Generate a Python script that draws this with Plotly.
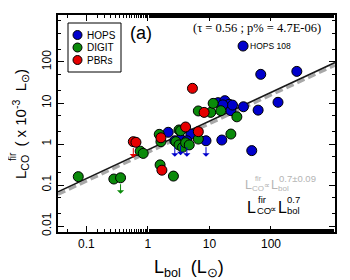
import math
import plotly.graph_objects as go

# ---- data (Lbol in Lsun, Lco_fir in 1e-3 Lsun) ----
hops_lbol = [2.14, 5.0, 15.9, 13.8, 17.8, 20.9, 22.3, 23.7, 35.7, 61.8, 130, 68.2, 263, 35.2, 48.7, 16.5, 2.74, 3.4, 4.3, 8.8]
hops_lco  = [1.93, 1.75, 1.25, 10.2, 11.4, 9.3, 6.5, 8.9, 8.1, 6.7, 10.4, 50, 59, 245, 0.69, 9.0, 1.2, 1.3, 1.2, 1.2]
hops_ul   = [0, 0, 0, 0, 0, 0, 0, 0, 0, 0, 0, 0, 0, 0, 0, 0, 1, 1, 1, 1]

digit_lbol = [0.074, 0.28, 0.36, 0.75, 0.84, 1.53, 1.63, 1.58, 2.6, 3.2, 2.85, 3.2, 3.66, 4.1, 4.7, 6.6, 6.6, 10.5, 11.5, 15.3, 27.9, 22.3, 3.4]
digit_lco  = [0.16, 0.14, 0.15, 0.67, 0.59, 1.72, 1.14, 0.31, 0.165, 2.2, 1.14, 0.95, 0.83, 1.07, 0.95, 1.32, 6.4, 5.9, 9.8, 6.5, 4.6, 1.75, 2.1]
digit_ul   = [0, 0, 1, 0, 0, 0, 0, 0, 0, 0, 0, 0, 0, 0, 0, 0, 0, 0, 0, 0, 0, 0, 0]

pbr_lbol = [0.58, 0.64, 1.63, 1.69, 4.1, 6.6, 5.3, 8.2]
pbr_lco  = [1.14, 1.1, 1.42, 0.23, 2.6, 2.0, 22.8, 5.9]
pbr_ul   = [1, 0, 0, 0, 0, 0, 0, 0]

series_names = ["HOPS", "DIGIT", "PBRs"]
fit_norm, fit_slope = 0.72, 0.70          # black solid fit
fit2_norm, fit2_slope = 0.62, 0.70        # grey dashed fit
x_range_log = [-1.46, 3.04]
y_range_log = [-2.146, 3.146]
x_ticks = [0.1, 1, 10, 100]
y_ticks = [0.01, 0.1, 1, 10, 100]

colors = {"HOPS": "#0000cc", "DIGIT": "#0a8a0a", "PBRs": "#e60000"}
FONT = "Liberation Sans, Arial, sans-serif"

# the page body has an 8px margin: size the figure so that the window shows it like the reference
OFF = 8
W, H = 350 - OFF, 280 - OFF
ML, MR, MT, MB = 58 - OFF, 15, 15 - OFF, 48
PW, PH = W - ML - MR, H - MT - MB


def px(xp):  # window pixel -> paper
    return (xp - ML - OFF) / PW


def py(yp):
    return 1 - (yp - MT - OFF) / PH


fig = go.Figure()

xs = [10 ** x_range_log[0], 10 ** x_range_log[1]]
fig.add_trace(go.Scatter(x=xs, y=[fit2_norm * v ** fit2_slope for v in xs], mode="lines",
                         line=dict(color="#a8a8a8", width=3, dash="8px,4px"), showlegend=False, hoverinfo="skip"))
fig.add_trace(go.Scatter(x=xs, y=[fit_norm * v ** fit_slope for v in xs], mode="lines",
                         line=dict(color="#1a1a1a", width=1.6), showlegend=False, hoverinfo="skip"))

series = [("HOPS", hops_lbol, hops_lco, hops_ul),
          ("DIGIT", digit_lbol, digit_lco, digit_ul),
          ("PBRs", pbr_lbol, pbr_lco, pbr_ul)]

annotations = []
for name, lx, ly, ul in series:
    for xv, yv, u in zip(lx, ly, ul):
        if u:
            annotations.append(dict(x=math.log10(xv), y=math.log10(yv) - 0.39,
                                    ax=math.log10(xv), ay=math.log10(yv) - 0.12,
                                    xref="x", yref="y", axref="x", ayref="y",
                                    showarrow=True, arrowhead=1, arrowsize=1.2,
                                    arrowwidth=1, arrowcolor=colors[name], text=""))

for name, lx, ly, ul in series:
    fig.add_trace(go.Scatter(x=lx, y=ly, mode="markers", name=name, showlegend=False,
                             marker=dict(size=10, color=colors[name],
                                         line=dict(color="black", width=1))))


def txt(x, y, s, size, color="black", family=FONT, xanchor="left", angle=0):
    return dict(x=px(x), y=py(y), xref="paper", yref="paper", text=s, showarrow=False,
                xanchor=xanchor, yanchor="middle", textangle=angle, borderpad=0,
                font=dict(size=size, family=family, color=color))


GREY = "#b4b4b4"
annotations += [
    txt(141, 33, "(a)", 18, xanchor="center"),
    txt(322, 28, "(τ = 0.56 ; p% = 4.7E-06)", 12.5, family="Liberation Serif, Times New Roman, serif",
        xanchor="right"),
    txt(249, 46, "HOPS 108", 8.5),
    # grey formula
    txt(243.5, 184.5, "L", 12.5, GREY),
    txt(251, 188, "CO", 8, GREY),
    txt(253.5, 178, "fir", 7.5, GREY),
    txt(266.5, 185.5, "∝", 7.5, GREY, xanchor="center"),
    txt(269.5, 184.5, "L", 12.5, GREY),
    txt(277, 188, "bol", 8, GREY),
    txt(278, 178.5, "0.7±0.09", 9.5, GREY),
    # black formula
    txt(246, 207, "L", 16),
    txt(255.5, 210.5, "CO", 9.5),
    txt(257, 199, "fir", 9.5),
    txt(273, 209, "∝", 9, xanchor="center"),
    txt(276.5, 207, "L", 16),
    txt(285.5, 210.5, "bol", 9.5),
    txt(286, 199, "0.7", 9.5),
    # axis titles
    txt(189, 268, "L<sub>bol</sub>  (L<sub>⊙</sub>)", 18, xanchor="center"),
    txt(12, 157, "fir", 10, angle=-90, xanchor="center"),
    # legend text
    txt(86, 35, "HOPS", 10),
    txt(86, 47.5, "DIGIT", 10),
    txt(86, 60, "PBRs", 10),
]
annotations.append(dict(x=px(20), y=py(124), xref="paper", yref="paper", showarrow=False,
                        text="L<sub>CO</sub>  ( x 10<sup>-3</sup>  L<sub>⊙</sub>)", textangle=-90,
                        xanchor="center", yanchor="middle",
                        font=dict(size=15, family=FONT, color="black")))

shapes = [dict(type="rect", xref="paper", yref="paper", x0=px(68), x1=px(121), y0=py(23), y1=py(72),
               line=dict(color="black", width=1), fillcolor="white", layer="above")]
for name, yy in zip(series_names, [35, 47.5, 60]):
    shapes.append(dict(type="circle", xref="paper", yref="paper", xsizemode="pixel", ysizemode="pixel",
                       xanchor=px(77.5), yanchor=py(yy), x0=-4.5, x1=4.5, y0=-4.5, y1=4.5,
                       fillcolor=colors[name], line=dict(color="black", width=1), layer="above"))

axis_common = dict(type="log", showgrid=False, zeroline=False, showline=True, linecolor="black",
                   linewidth=2, mirror="ticks", ticks="inside", ticklen=6, tickwidth=1,
                   tickcolor="black", automargin=False,
                   minor=dict(ticks="inside", ticklen=3, tickwidth=1, tickcolor="black", showgrid=False),
                   tickfont=dict(size=12, family=FONT, color="black"))

fig.update_layout(
    width=W, height=H, margin=dict(l=ML, r=MR, t=MT, b=MB),
    paper_bgcolor="white", plot_bgcolor="white",
    xaxis=dict(range=x_range_log, tickvals=x_ticks, ticktext=[str(v) for v in x_ticks], **axis_common),
    yaxis=dict(range=y_range_log, tickvals=y_ticks, ticktext=[str(v) for v in y_ticks], tickangle=-90,
               **axis_common),
    showlegend=False,
    annotations=annotations,
    shapes=shapes,
)

fig.write_html("out.html")
